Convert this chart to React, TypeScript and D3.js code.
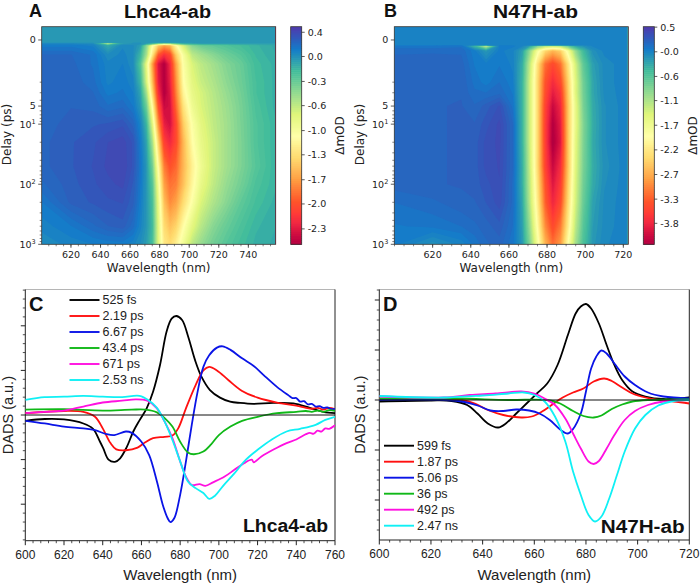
import React from "react";
import * as d3 from "d3";

// ---- Heat map A (Lhca4-ab): delta mOD at wavelength columns / delay rows
const wlA = [600,620,635,645,655,662,667,671,675,679,683,687,691,696,702,708,716,725,735,745,758];
const delayA = [-1.1,0.2,0.3,0.45,0.7,1,2,3,5,10,20,50,100,200,500,1000];
const mapA = [
  [.04,.04,.04,.04,.04,.04,.04,.04,.04,.04,.04,.04,.04,.04,.04,.04,.04,.04,.04,.03,.02],
  [.04,.04,.04,.04,.04,.04,.04,.04,.04,.04,.04,.04,.04,.04,.04,.04,.04,.04,.04,.03,.02],
  [.1,.1,.08,-.7,.0,.05,.05,.0,-.15,-.4,-.6,-.5,-.3,-.1,-.05,.0,.0,.0,.0,.0,.0],
  [.16,.16,.13,-.05,.1,.08,.0,-.4,-1.0,-1.4,-1.6,-1.5,-1.1,-.7,-.4,-.3,-.25,-.2,-.15,-.1,-.05],
  [.24,.24,.2,.08,.12,.08,-.1,-.5,-1.2,-1.9,-2.15,-2.0,-1.4,-.95,-.6,-.5,-.4,-.3,-.22,-.12,-.06],
  [.25,.25,.2,.12,.14,.08,-.2,-.8,-1.6,-2.3,-2.5,-2.2,-1.6,-1.0,-.72,-.6,-.5,-.38,-.28,-.14,-.08],
  [.26,.26,.22,.13,.16,.12,-.1,-.7,-1.45,-2.25,-2.5,-2.25,-1.7,-1.05,-.78,-.65,-.55,-.42,-.3,-.16,-.08],
  [.26,.26,.24,.16,.18,.14,-.02,-.5,-1.3,-2.15,-2.5,-2.3,-1.75,-1.12,-.82,-.7,-.58,-.45,-.32,-.16,-.08],
  [.26,.27,.26,.21,.23,.17,.03,-.3,-1.05,-1.95,-2.4,-2.35,-1.85,-1.25,-.88,-.72,-.6,-.48,-.34,-.18,-.08],
  [.26,.28,.3,.31,.33,.26,.12,-.1,-.75,-1.65,-2.25,-2.35,-2.0,-1.4,-1.0,-.78,-.62,-.5,-.35,-.2,-.1],
  [.26,.3,.33,.37,.39,.33,.16,-.02,-.5,-1.35,-2.05,-2.2,-2.0,-1.5,-1.05,-.82,-.65,-.5,-.36,-.2,-.1],
  [.26,.3,.34,.38,.4,.33,.18,.03,-.3,-1.05,-1.75,-1.95,-1.85,-1.5,-1.15,-.88,-.65,-.5,-.36,-.22,-.1],
  [.23,.29,.33,.36,.38,.3,.17,.03,-.2,-.9,-1.6,-1.8,-1.75,-1.45,-1.1,-.82,-.62,-.45,-.32,-.18,-.1],
  [.17,.28,.31,.33,.34,.28,.15,.03,-.15,-.8,-1.45,-1.7,-1.6,-1.3,-1.0,-.72,-.55,-.4,-.25,-.15,-.08],
  [.12,.17,.23,.27,.29,.22,.12,.03,-.12,-.75,-1.3,-1.45,-1.35,-1.05,-.78,-.58,-.4,-.28,-.18,-.1,-.06],
  [.08,.12,.14,.15,.15,.12,.07,.0,-.15,-.75,-1.2,-1.3,-1.15,-.9,-.6,-.45,-.32,-.22,-.14,-.08,-.05],
];
const cbTicksA = [0.36,0.03,-0.31,-0.64,-0.98,-1.31,-1.65,-1.98,-2.32];
const cbLabelsA = ["0.4","0.0","-0.3","-0.6","-1.0","-1.3","-1.7","-2.0","-2.3"];

// ---- Heat map B (N47H-ab)
const wlB = [600,620,635,642,648,655,662,667,671,675,679,683,687,691,695,699,704,710,722];
const delayB = [-1.1,0.42,0.48,0.6,1,2,3,5,10,20,50,100,200,500,1000];
const mapB = [
  [.02,.02,.02,.02,.02,.02,.02,.02,.02,.02,.02,.02,.02,.02,.02,.02,.02,.02,.02],
  [.02,.02,.02,.02,.02,.02,.02,.02,.02,.02,.02,.02,.02,.02,.02,.02,.02,.02,.02],
  [.1,.1,.12,-.4,-1.3,.05,.05,.0,-.2,-.7,-1.0,-1.1,-1.0,-.6,-.2,-.1,.0,.0,.0],
  [.18,.18,.18,.05,-.15,.05,.0,-.2,-.9,-1.7,-2.3,-2.6,-2.4,-1.7,-.9,-.4,-.1,.0,.02],
  [.22,.24,.22,.08,.05,.08,.02,-.3,-1.2,-2.2,-3.1,-3.4,-3.1,-2.2,-1.3,-.6,-.2,-.05,.02],
  [.22,.24,.24,.12,.06,.14,.05,-.35,-1.3,-2.3,-3.3,-3.7,-3.4,-2.4,-1.4,-.7,-.25,-.05,.02],
  [.22,.24,.24,.15,.14,.18,.08,-.35,-1.3,-2.3,-3.35,-3.85,-3.6,-2.45,-1.4,-.72,-.25,-.06,.02],
  [.22,.24,.25,.2,.27,.36,.12,-.35,-1.3,-2.3,-3.45,-4.05,-3.75,-2.5,-1.5,-.75,-.28,-.08,.02],
  [.2,.24,.25,.25,.33,.42,.2,-.35,-1.3,-2.3,-3.5,-4.2,-3.85,-2.5,-1.5,-.8,-.3,-.08,.02],
  [.22,.24,.25,.27,.37,.42,.2,-.35,-1.3,-2.3,-3.5,-4.25,-3.9,-2.5,-1.45,-.78,-.28,-.08,.02],
  [.24,.24,.25,.27,.37,.41,.2,-.3,-1.25,-2.3,-3.45,-4.05,-3.7,-2.5,-1.4,-.75,-.3,-.1,.02],
  [.22,.24,.25,.27,.33,.4,.18,-.3,-1.2,-2.2,-3.3,-3.9,-3.55,-2.4,-1.35,-.7,-.28,-.08,.02],
  [.14,.18,.23,.24,.3,.38,.18,-.25,-1.15,-2.1,-3.2,-3.75,-3.4,-2.3,-1.3,-.65,-.22,-.06,.02],
  [.08,.1,.14,.18,.22,.28,.14,-.2,-.95,-1.9,-2.9,-3.4,-3.05,-2.1,-1.15,-.55,-.18,-.05,.02],
  [.05,-.1,.0,.1,.18,.22,.1,-.15,-.8,-1.7,-2.6,-3.1,-2.8,-1.85,-1,-.48,-.15,-.03,.02],
];
const cbTicksB = [0.5,-0.04,-0.58,-1.11,-1.65,-2.19,-2.73,-3.27,-3.8];
const cbLabelsB = ["0.5","-0.0","-0.6","-1.1","-1.7","-2.2","-2.7","-3.3","-3.8"];

// ---- DADS, panel C
const cBlackX = [600,610,620,630,635,638.6,640.3,643,646.3,649,652.4,655.8,659,662.7,666,669.6,673,675.6,678,681,684.2,687.7,691,695.4,700.6,705.8,711,717.8,728,738.5,747,754,760];
const cBlackY = [-.13,-.09,-.1,-.19,-.31,-.6,-.75,-1.0,-1.05,-.97,-.72,-.37,-.12,.15,.52,1.12,1.87,2.16,2.22,2.13,1.75,1.23,.86,.56,.39,.3,.27,.25,.27,.26,.16,.07,.04];
const cRedX = [600,620,630,636,640,644,647,652,658,662,666,672,676,679,683,688,692,695,699,705,712,720,730,740,745,748,751,754,757,760];
const cRedY = [.04,.09,.07,-.04,-.3,-.63,-.77,-.79,-.73,-.61,-.52,-.49,-.46,-.3,.15,.67,1,1.08,1,.78,.54,.39,.28,.21,.16,.14,.16,.12,.16,.13];
const cBlueX = [600,610,620,630,636,642,646,652,655,660,664,668,671,673.5,675,677,680,683,686,689,692,695,699,702,706,712,718,723,730,736,738,740,742,744,746,748,750,752,754,756,758,760];
const cBlueY = [-.13,-.19,-.26,-.3,-.34,-.43,-.45,-.37,-.4,-.6,-.9,-1.49,-2.01,-2.31,-2.4,-2.31,-1.79,-1.04,-.22,.52,1.08,1.34,1.51,1.54,1.46,1.27,1.1,.9,.63,.44,.38,.38,.3,.31,.24,.25,.19,.2,.16,.17,.13,.14];
const cGreenX = [600,620,640,655,662,668,672,676,680,684,687,692,696,700,706,712,720,730,740,745,748,751,754,757,760];
const cGreenY = [.12,.13,.1,.12,.12,.06,-.07,-.26,-.6,-.84,-.88,-.82,-.66,-.45,-.26,-.13,-.04,.04,.07,.09,.07,.1,.07,.11,.09];
const cMagX = [600,610,620,630,640,650,657,663,668,672,676,680,683,686,690,693,697,703,708,713,717,718,722,728,735,740,745,747,749,751,753,755,757,760];
const cMagY = [.04,.07,.1,.19,.28,.32,.35,.32,.15,-.15,-.52,-1.04,-1.38,-1.57,-1.55,-1.59,-1.51,-1.38,-1.23,-1.08,-1,-1.06,-.93,-.78,-.63,-.55,-.43,-.4,-.42,-.35,-.37,-.3,-.31,-.23];
const cCyanX = [600,610,620,630,640,650,659,664,668,672,676,680,684,688,692,695,698,702,708,714,720,727,735,742,750,755,760];
const cCyanY = [.34,.4,.41,.43,.41,.4,.43,.32,.16,-.15,-.56,-1.04,-1.49,-1.64,-1.75,-1.88,-1.81,-1.6,-1.31,-1,-.78,-.56,-.37,-.31,-.22,-.11,-.04];

// ---- DADS, panel D
const dBlackX = [600,620,628,634,638,642,646,649,653,657,661,665,669,673,676,678,680,682,685,688,691,694,698,703,710,720];
const dBlackY = [-.03,-.01,-.02,-.1,-.27,-.47,-.55,-.47,-.27,-.07,.13,.33,.7,1.3,1.73,1.87,1.92,1.83,1.53,1.1,.7,.4,.17,.07,.02,.05];
const dRedX = [600,625,632,637,642,648,655,659,663,667,671,675,679,683,687,690,694,698,703,708,714,720];
const dRedY = [.02,.02,0,-.07,-.2,-.3,-.35,-.33,-.23,-.09,.05,.15,.23,.37,.43,.38,.25,.13,.05,0,-.03,-.07];
const dBlueX = [600,625,632,638,643,648,653,658,662,666,670,673,675,678,680,682,684,686,688,691,695,699,704,710,720];
const dBlueY = [0,0,-.03,-.11,-.21,-.22,-.19,-.21,-.27,-.4,-.59,-.67,-.58,-.27,.17,.63,.87,.99,.93,.73,.47,.3,.15,.07,.03];
const dGreenX = [600,630,650,665,670,675,679,683,686,690,694,698,704,720];
const dGreenY = [.03,.03,0,0,-.07,-.22,-.32,-.35,-.31,-.18,-.09,-.03,0,.01];
const dMagX = [600,625,635,645,655,660,664,668,672,675,678,681,683,685,688,691,695,699,704,710,720];
const dMagY = [.07,.05,.1,.13,.17,.13,.03,-.1,-.37,-.67,-.97,-1.23,-1.28,-1.22,-.97,-.7,-.4,-.22,-.1,-.03,0];
const dCyanX = [600,625,640,650,656,660,664,668,672,675,678,681,683.5,686,689,692,695,699,703,708,714,720];
const dCyanY = [.08,.05,.09,.13,.15,.1,-.03,-.33,-.83,-1.43,-1.9,-2.3,-2.43,-2.33,-1.97,-1.5,-1.03,-.57,-.3,-.11,-.02,0];

const cLabels = ["525 fs","2.19 ps","6.67 ps","43.4 ps","671 ps","2.53 ns"];
const dLabels = ["599 fs","1.87 ps","5.06 ps","36 ps","492 ps","2.47 ns"];
const traceColors = ["#000000","#ff1010","#0a14e6","#10b818","#ff10e0","#10f0f5"];

const TXT = "#222";
const MPL = "DejaVu Sans";
const ARIAL = "Liberation Sans";
const spectral = d3.piecewise(d3.interpolateRgb, [...d3.schemeSpectral[11]]);

const logTicks = [2,3,4,6,7,8,9,20,30,40,50,60,70,80,90,200,300,400,500,600,700,800,900];

function Tone() {
  return (
    <>
      <feColorMatrix type="saturate" values="1.25" />
      <feComponentTransfer>
        <feFuncR type="gamma" amplitude="1" exponent="1.2" offset="0" />
        <feFuncG type="gamma" amplitude="1" exponent="1.2" offset="0" />
        <feFuncB type="gamma" amplitude="1" exponent="1.1" offset="0" />
      </feComponentTransfer>
    </>
  );
}

function Heat(props: any) {
  const { id, x0, x1, y0, y1, wlMin, wlMax, wl, delay, grid, vMin, vMax, cbX, cbTicks, cbLabels, xTicks, title, titleX, titleW, letter, letterX, cbLabelX } = props;
  const x = d3.scaleLinear().domain([wlMin, wlMax]).range([x0, x1]);
  const L = 0.5;
  const yLin = d3.scaleLinear().domain([-1.1, L]).range([y0, 46]);
  const yLog = d3.scaleLog().domain([L, 1000]).range([46, y1]);
  const y = (d: number) => (d < L ? yLin(d) : yLog(d));
  const color = (v: number) => spectral((v - vMin) / (vMax - vMin));

  const nx = wl.length, ny = delay.length;
  const flat: number[] = ([] as number[]).concat(...grid);
  const levels = d3.range(vMin, vMax, (vMax - vMin) / 90);
  const contours = d3.contours().size([nx, ny]).smooth(true).thresholds(levels)(flat);
  const ix = d3.scaleLinear().domain(wl.map((_: number, i: number) => i + 0.5)).range(wl.map((w: number) => x(w))).clamp(true);
  const iy = d3.scaleLinear().domain(delay.map((_: number, i: number) => i + 0.5)).range(delay.map((d: number) => y(d))).clamp(true);
  const path = d3.geoPath(d3.geoTransform({
    point(this: any, a: number, b: number) { this.stream.point(ix(a), iy(b)); },
  }));
  const cbY = d3.scaleLinear().domain([vMax, vMin]).range([y0, y1]);
  const cbSteps = d3.range(0, 110).map((i) => vMax - ((vMax - vMin) * i) / 110);
  const cbW = 11;
  const minor = d3.range(Math.ceil(wlMin / 5) * 5, wlMax + 0.01, 5);
  return (
    <g>
      <defs>
        <clipPath id={id + "c"}><rect x={x0} y={y0} width={x1 - x0} height={y1 - y0} /></clipPath>
        <filter id={id + "f"} x="-5%" y="-5%" width="110%" height="110%" colorInterpolationFilters="sRGB">
          <feGaussianBlur stdDeviation="0.7" />
          <Tone />
        </filter>
        <filter id={id + "s"} x="0" y="0" width="100%" height="100%" colorInterpolationFilters="sRGB">
          <Tone />
        </filter>
      </defs>
      <g clipPath={`url(#${id}c)`}>
        <g filter={`url(#${id}f)`}>
          <rect x={x0 - 4} y={y0 - 4} width={x1 - x0 + 8} height={y1 - y0 + 8} fill={color(vMin)} />
          {contours.map((c: any, i: number) => (
            <path key={i} d={path(c) || ""} fill={color(c.value)} />
          ))}
        </g>
      </g>
      <rect x={x0} y={y0} width={x1 - x0} height={y1 - y0} fill="none" stroke="#333" strokeWidth={0.8} />
      {xTicks.map((t: number) => (
        <g key={t}>
          <line x1={x(t)} x2={x(t)} y1={y1} y2={y1 + 3.5} stroke="#333" strokeWidth={0.8} />
          <text x={x(t)} y={y1 + 13.5} fontSize={9.5} fontFamily={MPL} fill={TXT} textAnchor="middle">{t}</text>
        </g>
      ))}
      {minor.map((t: number) => (
        <line key={t} x1={x(t)} x2={x(t)} y1={y1} y2={y1 + 2} stroke="#333" strokeWidth={0.6} />
      ))}
      {logTicks.map((t) => (
        <line key={t} x1={x0 - 2} x2={x0} y1={y(t)} y2={y(t)} stroke="#333" strokeWidth={0.6} />
      ))}
      {[[0,"0"],[5,"5"]].map(([t, l]: any) => (
        <g key={t}>
          <line x1={x0 - 3.5} x2={x0} y1={y(t)} y2={y(t)} stroke="#333" strokeWidth={0.8} />
          <text x={x0 - 6} y={y(t) + 3.4} fontSize={9.5} fontFamily={MPL} fill={TXT} textAnchor="end">{l}</text>
        </g>
      ))}
      {[[10,1],[100,2],[1000,3]].map(([t, e]: any) => (
        <g key={t}>
          <line x1={x0 - 3.5} x2={x0} y1={y(t)} y2={y(t)} stroke="#333" strokeWidth={0.8} />
          <text x={x0 - 6} y={y(t) + 3.4} fontSize={9.5} fontFamily={MPL} fill={TXT} textAnchor="end">10<tspan dy={-3.5} fontSize={6.5}>{e}</tspan></text>
        </g>
      ))}
      <text x={(x0 + x1) / 2} y={y1 + 28} fontSize={12} fontFamily={MPL} fill={TXT} textAnchor="middle">Wavelength (nm)</text>
      <text transform={`translate(${x0 - 30.5},${(y0 + y1) / 2 - 1}) rotate(-90)`} fontSize={12} fontFamily={MPL} fill={TXT} textAnchor="middle">Delay (ps)</text>

      <g filter={`url(#${id}s)`}>
        {cbSteps.map((v) => (
          <rect key={v} x={cbX} y={cbY(v)} width={cbW} height={(y1 - y0) / 110 + 0.6} fill={color(v)} />
        ))}
      </g>
      <rect x={cbX} y={y0} width={cbW} height={y1 - y0} fill="none" stroke="#333" strokeWidth={0.8} />
      {cbTicks.map((t: number, i: number) => (
        <g key={t}>
          <line x1={cbX + cbW} x2={cbX + cbW + 3} y1={cbY(t)} y2={cbY(t)} stroke="#333" strokeWidth={0.8} />
          <text x={cbX + cbW + 6} y={cbY(t) + 3.4} fontSize={9.5} fontFamily={MPL} fill={TXT}>{cbLabels[i]}</text>
        </g>
      ))}
      <text transform={`translate(${cbLabelX},${(y0 + y1) / 2}) rotate(-90)`} fontSize={12} fontFamily={MPL} fill={TXT} textAnchor="middle">ΔmOD</text>

      <text x={titleX} y={17.5} fontSize={17.5} fontWeight={700} fontFamily={ARIAL} fill="#111" textLength={titleW} lengthAdjust="spacingAndGlyphs">{title}</text>
      <text x={letterX} y={16.5} fontSize={18} fontWeight={700} fontFamily={ARIAL} fill="#111">{letter}</text>
    </g>
  );
}

function Traces(props: any) {
  const { id, x0, x1, y0, y1, yZero, unit, wlMax, xs, ys, legend, legendX, legendTextX, legendY, legendStep, name, nameX, nameY, nameW, letter, letterX, labelX } = props;
  const x = d3.scaleLinear().domain([600, wlMax]).range([x0, x1]);
  const y = d3.scaleLinear().domain([0, 1]).range([yZero, yZero - unit]);
  const majors = d3.range(-2, 3);
  const minors = d3.range(-14, 15).map((k) => k / 5).filter((v) => y(v) > y0 && y(v) < y1 && Math.abs(v * 5) % 5 > 0.01);
  const xMaj = d3.range(600, wlMax + 1, 20);
  const xMin = d3.range(600, wlMax + 1, 4).filter((v) => (v - 600) % 20 !== 0);
  return (
    <g>
      <defs><clipPath id={id}><rect x={x0} y={y0} width={x1 - x0} height={y1 - y0} /></clipPath></defs>
      <line x1={x0} x2={x1} y1={y0} y2={y0} stroke="#b5b5b5" strokeWidth={1} />
      <line x1={x1} x2={x1} y1={y0} y2={y1} stroke="#222" strokeWidth={1} />
      <line x1={x0} x2={x0} y1={y0} y2={y1} stroke="#222" strokeWidth={1} />
      <line x1={x0} x2={x1} y1={y1} y2={y1} stroke="#222" strokeWidth={1} />
      {majors.map((m) => (
        <line key={m} x1={x0 - 4.5} x2={x0} y1={y(m)} y2={y(m)} stroke="#222" strokeWidth={1} />
      ))}
      {minors.map((m) => (
        <line key={m} x1={x0 - 2.5} x2={x0} y1={y(m)} y2={y(m)} stroke="#222" strokeWidth={0.8} />
      ))}
      {xMin.map((v) => (
        <line key={v} x1={x(v)} x2={x(v)} y1={y1} y2={y1 + 2.5} stroke="#222" strokeWidth={0.8} />
      ))}
      {xMaj.map((v) => (
        <g key={v}>
          <line x1={x(v)} x2={x(v)} y1={y1} y2={y1 + 4.5} stroke="#222" strokeWidth={1} />
          <text x={x(v)} y={y1 + 18} fontSize={12} fontFamily={ARIAL} fill={TXT} textAnchor="middle">{v}</text>
        </g>
      ))}
      <g clipPath={`url(#${id})`} fill="none" strokeWidth={1.8} strokeLinejoin="round">
        {xs.map((xv: number[], k: number) => {
          const gen = d3.line<number>().x((v) => x(v)).y((_, i) => y(ys[k][i])).curve(d3.curveCatmullRom.alpha(0.5));
          return <path key={k} d={gen(xv) || ""} stroke={traceColors[k]} />;
        })}
      </g>
      <line x1={x0} x2={x1} y1={yZero} y2={yZero} stroke="#111" strokeWidth={1} />
      {legend.map((l: string, i: number) => (
        <g key={l}>
          <line x1={legendX} x2={legendTextX - 3} y1={legendY + i * legendStep} y2={legendY + i * legendStep} stroke={traceColors[i]} strokeWidth={1.9} />
          <text x={legendTextX} y={legendY + i * legendStep + 4.3} fontSize={12.5} fontFamily={ARIAL} fill={TXT}>{l}</text>
        </g>
      ))}
      <text x={(x0 + x1) / 2} y={580} fontSize={15} fontFamily={ARIAL} fill={TXT} textAnchor="middle">Wavelength (nm)</text>
      <text transform={`translate(${labelX},${(y0 + y1) / 2}) rotate(-90)`} fontSize={14.5} fontFamily={ARIAL} fill={TXT} textAnchor="middle">DADS (a.u.)</text>
      <text x={nameX} y={nameY} fontSize={17.5} fontWeight={700} fontFamily={ARIAL} fill="#111" textLength={nameW} lengthAdjust="spacingAndGlyphs">{name}</text>
      <text x={letterX} y={311} fontSize={20} fontWeight={700} fontFamily={ARIAL} fill="#111">{letter}</text>
    </g>
  );
}

export default function App() {
  return (
    <svg width={700} height={586} style={{ position: "absolute", left: 0, top: 0, background: "#fff" }}>
      <Heat id="ha" x0={41.7} x1={275.7} y0={26.7} y1={244.3} wlMin={600.2} wlMax={758.5} wl={wlA} delay={delayA} grid={mapA}
        vMin={-2.53} vMax={0.436} cbX={290.7} cbTicks={cbTicksA} cbLabels={cbLabelsA} xTicks={[620,640,660,680,700,720,740]}
        title="Lhca4-ab" titleX={124} titleW={87} letter="A" letterX={29} cbLabelX={344} />
      <Heat id="hb" x0={394.3} x1={628.3} y0={26.7} y1={244.3} wlMin={599.9} wlMax={722.6} wl={wlB} delay={delayB} grid={mapB}
        vMin={-4.26} vMax={0.51} cbX={643.3} cbTicks={cbTicksB} cbLabels={cbLabelsB} xTicks={[620,640,660,680,700,720]}
        title="N47H-ab" titleX={493} titleW={85} letter="B" letterX={384} cbLabelX={697} />
      <Traces id="tc" x0={25.3} x1={335} y0={289.5} y1={540.7} yZero={415} unit={44.6} wlMax={760}
        xs={[cBlackX,cRedX,cBlueX,cGreenX,cMagX,cCyanX]} ys={[cBlackY,cRedY,cBlueY,cGreenY,cMagY,cCyanY]}
        legend={cLabels} legendX={69.5} legendTextX={102.5} legendY={300} legendStep={16}
        name="Lhca4-ab" nameX={243} nameY={532} nameW={85} letter="C" letterX={29} labelX={13.2} />
      <Traces id="td" x0={379.3} x1={689.3} y0={289.5} y1={540} yZero={400} unit={50} wlMax={720}
        xs={[dBlackX,dRedX,dBlueX,dGreenX,dMagX,dCyanX]} ys={[dBlackY,dRedY,dBlueY,dGreenY,dMagY,dCyanY]}
        legend={dLabels} legendX={384} legendTextX={417} legendY={445.7} legendStep={16}
        name="N47H-ab" nameX={600.7} nameY={533} nameW={84} letter="D" letterX={383} labelX={365} />
    </svg>
  );
}
